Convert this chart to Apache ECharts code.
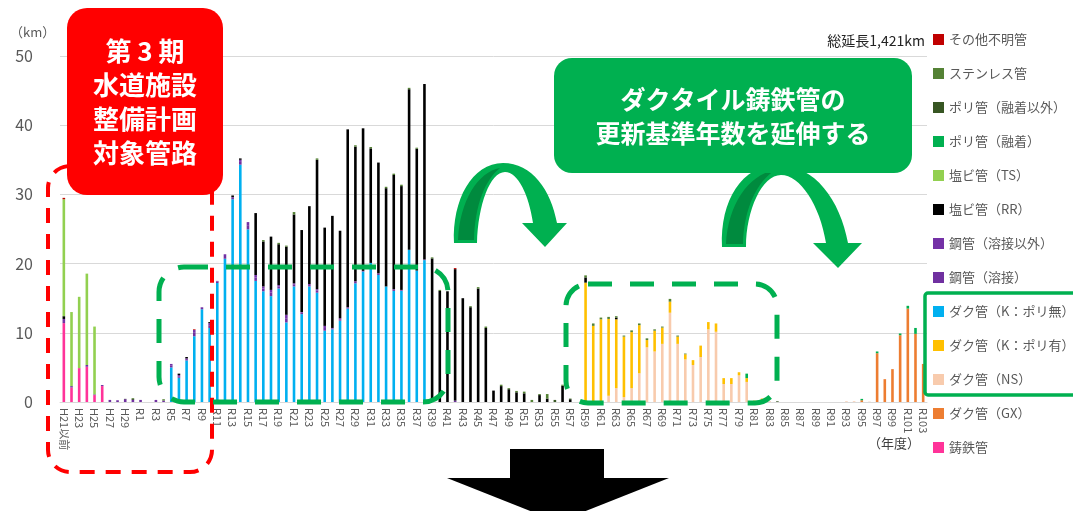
<!DOCTYPE html>
<html>
<head>
<meta charset="utf-8">
<script src="https://cdn.jsdelivr.net/npm/echarts@6/dist/echarts.min.js"></script>
<style>
html,body{margin:0;padding:0;background:#fff;}
#chart{width:1073px;height:511px;}
</style>
</head>
<body>
<div id="chart"></div>
<script>
// 年度区分（H21以前〜R103）
const years = ['H21以前','H22','H23','H24','H25','H26','H27','H28','H29','H30',
  'R1','R2','R3','R4','R5','R6','R7','R8','R9','R10',
  'R11','R12','R13','R14','R15','R16','R17','R18','R19','R20',
  'R21','R22','R23','R24','R25','R26','R27','R28','R29','R30',
  'R31','R32','R33','R34','R35','R36','R37','R38','R39','R40',
  'R41','R42','R43','R44','R45','R46','R47','R48','R49','R50',
  'R51','R52','R53','R54','R55','R56','R57','R58','R59','R60',
  'R61','R62','R63','R64','R65','R66','R67','R68','R69','R70',
  'R71','R72','R73','R74','R75','R76','R77','R78','R79','R80',
  'R81','R82','R83','R84','R85','R86','R87','R88','R89','R90',
  'R91','R92','R93','R94','R95','R96','R97','R98','R99','R100',
  'R101','R102','R103'];

// 管種別の更新延長（km）
const castIron = [11.4,2.1,4.9,5.1,1.0,2.3,0,0,0,0,
  0,0,0,0,0,0,0,0,0,0, 0,0,0,0,0,0,0,0,0,0, 0,0,0,0,0,0,0,0,0,0,
  0,0,0,0,0,0,0,0,0,0, 0,0,0,0,0,0,0,0,0,0, 0,0,0,0,0,0,0,0,0,0,
  0,0,0,0,0,0,0,0,0,0, 0,0,0,0,0,0,0,0,0,0, 0,0,0,0,0,0,0,0,0,0,
  0,0,0,0,0,0,0,0,0,0, 0,0,0];
const ductileGX = [0,0,0,0,0,0,0,0,0,0,
  0,0,0,0,0,0,0,0,0,0, 0,0,0,0,0,0,0,0,0,0, 0,0,0,0,0,0,0,0,0,0,
  0,0,0,0,0,0,0,0,0,0, 0,0,0,0,0,0,0,0,0,0, 0,0,0,0,0,0,0,0,0,0,
  0,0,0,0,0,0,0,0,0,0, 0,0,0,0,0,0,0,0,0,0, 0,0,0,0,0,0,0,0,0,0,
  0,0,0,0,0.25,0,7.05,3.3,4.75,9.65, 13.5,9.85,5.5];
const ductileNS = [0,0,0,0,0,0,0,0,0,0,
  0,0,0,0,0,0,0,0,0,0, 0,0,0,0,0,0,0,0,0,0, 0,0,0,0,0,0,0,0,0,0,
  0,0,0,0,0,0,0,0,0,0, 0,0,0,0,0,0,0,0,0,0, 0,0,0,0,0,0,0,0,0,0,
  0,0.9,2.0,0.7,2.0,4.15,7.9,7.3,8.4,12.9,
  8.4,6.15,5.35,6.5,10.5,10.15,2.6,2.6,3.85,2.9,
  0.1,0,0.1,0,0,0,0,0,0,0,
  0,0,0.1,0.1,0,0.05,0,0,0,0, 0,0,0];
const ductileKPoly = [0,0,0,0,0,0,0,0,0,0,
  0,0,0,0,0,0,0,0,0,0, 0,0,0,0,0,0,0,0,0,0, 0,0,0,0,0,0,0,0,0,0,
  0,0,0,0,0,0,0,0,0,0, 0,0,0,0,0,0,0,0,0,0,
  0,0,0,0,0,0,0,0,17.25,11.0,
  11.95,11.1,9.95,8.75,8.1,6.95,1.05,3.0,2.35,1.6,
  1.05,0.75,0.7,1.65,1.05,1.2,0.85,0.85,0.45,0.55,
  0.1,0.5,0,0,0,0,0,0,0,0,
  0,0,0,0,0,0,0,0,0,0, 0,0,0];
const ductileKBare = [0,0,0,0,0,0,0,0,0,0,
  0,0,0,0,5.0,3.5,6.0,9.5,13.4,10.7,
  17.2,20.7,29.3,34.3,24.95,17.5,16.0,15.3,16.4,11.5,
  16.7,12.7,16.7,15.8,10.3,10.5,11.75,13.5,17.15,18.85,
  20.1,18.35,16.7,16.05,16.05,22.0,19.0,20.5,0,0,
  0,0,0,0,0,0,0,0,0,0, 0,0,0,0,0,0,0,0,0,0, 0,0,0,0,0,0,0,0,0,0,
  0,0,0,0,0,0,0,0,0,0, 0,0,0,0,0,0,0,0,0,0, 0,0,0,0,0,0,0,0,0,0,
  0,0,0];
const steelWelded = [0.3,0.2,0,0.25,0.1,0.15,0.3,0.25,0.4,0.3,
  0.3,0,0.3,0.2,0.3,0.2,0.2,0.5,0.2,0.4,
  0.2,0.4,0.2,0.4,0.6,0.5,0.4,0.5,0.3,0.6,
  0.25,0.2,0.2,0.3,0.4,0.1,0.2,0.1,0.2,0.1,
  0,0.15,0,0.15,0.1,0,0,0.1,0,0,
  0,0.2,0,0,0,0,0,0,0,0,
  0,0,0,0,0,0,0,0,0,0, 0,0,0,0,0,0,0,0,0,0, 0,0,0,0,0,0,0,0,0,0,
  0,0,0,0,0,0,0,0,0,0, 0,0,0,0,0,0,0,0,0,0, 0,0,0];
const steelOther = [0.3,0,0,0,0,0,0,0,0,0,
  0,0,0,0,0.2,0.2,0.1,0.4,0.1,0.3,
  0.1,0.25,0.1,0.3,0.45,0.35,0.3,0.4,0.2,0.5,
  0.2,0.1,0.15,0.2,0.3,0.1,0.15,0.1,0.1,0,
  0,0.1,0,0.1,0.05,0,0,0,0,0,
  0,0,0,0,0,0,0,0,0,0, 0,0,0,0,0,0,0,0,0,0, 0,0,0,0,0,0,0,0,0,0,
  0,0,0,0,0,0,0,0,0,0, 0,0,0,0,0,0,0,0,0,0, 0,0,0,0,0,0,0,0,0,0,
  0,0,0];
const pvcRR = [0.4,0,0,0,0,0,0,0,0.05,0.1,
  0,0,0,0,0,0.2,0.2,0,0,0.15,
  0,0,0.25,0.2,0,8.95,6.5,7.7,5.9,9.85,
  9.95,11.85,11.25,18.7,14.2,16.2,12.65,25.7,19.45,20.6,
  16.55,16.0,14.2,16.5,15.0,23.2,17.6,25.35,20.75,16.05,
  16.0,19.0,15.0,13.7,16.4,10.7,1.65,2.3,1.85,1.4,
  1.25,0,1.0,0.5,0,2.35,0.4,0,0.75,0,
  0,0,0.25,0,0,0,0,0,0,0,
  0,0,0,0,0,0,0,0,0,0, 0,0,0,0,0,0,0,0,0,0, 0,0,0,0,0,0,0,0,0,0,
  0,0,0];
const pvcTS = [16.9,10.7,10.3,13.2,9.8,0,0,0,0,0,
  0,0,0,0,0,0,0,0,0,0, 0,0,0,0,0,0,0,0,0,0, 0,0,0,0,0,0,0,0,0,0,
  0,0,0,0,0,0,0,0,0,0, 0,0,0,0,0,0,0,0,0,0, 0,0,0,0,0,0,0,0,0,0,
  0,0,0,0,0,0,0,0,0,0, 0,0,0,0,0,0,0,0,0,0, 0,0,0,0,0,0,0,0,0,0,
  0,0,0,0,0,0,0,0,0,0, 0,0,0];
const polyFused = [0,0,0,0,0,0,0,0,0,0,
  0,0,0,0,0,0,0,0,0,0, 0,0,0,0,0,0,0,0,0,0, 0,0,0,0,0,0,0,0,0,0,
  0,0,0,0,0,0,0,0,0,0, 0,0,0,0,0,0,0,0,0,0, 0,0,0,0,0,0,0,0,0,0,
  0,0,0,0,0,0,0,0,0,0,
  0,0,0,0,0,0,0,0,0,0.65,
  0,0,0,0,0,0,0,0,0,0,
  0,0,0,0,0.2,0,0.25,0,0,0.25, 0.4,0.85,0];
const polyOther = [0,0,0,0,0,0,0,0,0,0,
  0,0,0,0,0,0,0,0,0,0, 0,0,0,0,0,0,0,0,0,0, 0,0,0,0,0,0,0,0,0,0,
  0,0,0,0,0,0,0,0,0,0, 0,0,0,0,0,0,0,0,0,0,
  0,0,0,0,0.3,0,0,0,0,0,
  0,0,0,0,0,0,0,0,0,0, 0,0,0,0,0,0,0,0,0,0,
  0,0,0,0.1,0,0,0,0,0,0,
  0,0,0,0,0,0,0,0,0,0, 0,0,0];
const stainless = [0,0,0,0,0,0,0,0,0,0.15,
  0,0,0,0.2,0,0,0,0,0,0,
  0,0,0,0,0,0,0.2,0,0.2,0.15,
  0.35,0,0,0.2,0,0,0,0,0.2,0,
  0.2,0,0.2,0.2,0.2,0.2,0.15,0,0.15,0.15,
  0,0,0,0.15,0.2,0.2,0,0.2,0.15,0.2,
  0.25,0.3,0.15,0.65,0,0.15,0.1,0,0.3,0.35,
  0.25,0.3,0.2,0.15,0.25,0.25,0.25,0.2,0.15,0.4,
  0.15,0.1,0,0,0,0,0,0,0,0,
  0,0,0,0,0,0,0,0,0,0, 0,0,0,0,0,0,0,0,0,0, 0,0,0];
const unknown = [0.2,0,0,0,0,0,0,0,0,0,
  0,0,0,0,0,0,0,0.1,0,0,
  0,0,0,0,0,0,0,0,0,0, 0,0,0,0,0,0,0,0,0,0, 0,0,0,0,0,0,0,0,0,0,
  0,0.15,0,0,0,0,0,0,0,0,
  0,0,0,0,0,0,0,0,0,0, 0,0,0,0,0,0,0,0,0,0, 0,0,0,0,0,0,0,0,0,0,
  0,0,0,0,0,0,0,0,0,0, 0,0,0,0,0,0,0,0,0,0, 0,0,0];

const yTicks = [0, 10, 20, 30, 40, 50];

// 積み上げ順（下から）
const stackDefs = [
  ['鋳鉄管', castIron, '#FF3399'],
  ['ダク管（GX）', ductileGX, '#ED7D31'],
  ['ダク管（NS）', ductileNS, '#F8CBAD'],
  ['ダク管（K：ポリ有）', ductileKPoly, '#FFC000'],
  ['ダク管（K：ポリ無）', ductileKBare, '#00B0F0'],
  ['鋼管（溶接）', steelWelded, '#7030A0'],
  ['鋼管（溶接以外）', steelOther, '#7431A6'],
  ['塩ビ管（RR）', pvcRR, '#000000'],
  ['塩ビ管（TS）', pvcTS, '#92D050'],
  ['ポリ管（融着）', polyFused, '#00B050'],
  ['ポリ管（融着以外）', polyOther, '#375623'],
  ['ステンレス管', stainless, '#548235'],
  ['その他不明管', unknown, '#C00000']
];

const FONT = '"Noto Sans CJK JP", "Noto Sans", sans-serif';

const chart = echarts.init(document.getElementById('chart'), null, {renderer: 'canvas'});

const option = {
  animation: false,
  backgroundColor: '#ffffff',
  textStyle: {fontFamily: FONT},
  grid: {left: 60, right: 146, top: 56, bottom: 109, containLabel: false},
  legend: {
    orient: 'vertical',
    left: 933,
    top: 33,
    padding: 0,
    itemWidth: 11,
    itemHeight: 11,
    itemGap: 21,
    icon: 'rect',
    selectedMode: false,
    data: stackDefs.map(d => d[0]).reverse(),
    textStyle: {fontSize: 13, color: '#595959', lineHeight: 13, fontFamily: FONT}
  },
  xAxis: {
    type: 'category',
    data: years,
    axisTick: {show: false},
    axisLine: {lineStyle: {color: '#D9D9D9', width: 1}},
    axisLabel: {
      rotate: -90,
      interval: 1,
      fontSize: 11,
      color: '#595959',
      margin: 6,
      fontFamily: FONT
    }
  },
  yAxis: {
    type: 'value',
    min: yTicks[0],
    max: yTicks[yTicks.length - 1],
    interval: 10,
    axisLine: {show: false},
    axisTick: {show: false},
    splitLine: {lineStyle: {color: '#D9D9D9', width: 1}},
    axisLabel: {fontSize: 16, color: '#595959', margin: 27, fontFamily: FONT}
  },
  series: stackDefs.map(d => ({
    name: d[0],
    type: 'bar',
    stack: 'total',
    barWidth: 2.6,
    data: d[1],
    itemStyle: {color: d[2]},
    emphasis: {disabled: true}
  })),
  graphic: {
    elements: [
      // 単位・合計・年度
      {type: 'text', x: 10, y: 26, style: {text: '（km）', font: '13px ' + FONT, fill: '#595959'}},
      {type: 'text', x: 925, y: 34, style: {text: '総延長1,421km', font: '14px ' + FONT, fill: '#222222', align: 'right', textAlign: 'right'}},
      {type: 'text', x: 868, y: 437, style: {text: '（年度）', font: '13px ' + FONT, fill: '#404040'}},

      // 第3期 対象範囲（赤破線）
      {type: 'rect', z: 100, shape: {x: 48, y: 166, width: 164, height: 306, r: 22},
        style: {fill: 'none', stroke: '#FF0000', lineWidth: 4, lineDash: [15, 11]}},
      // 赤ラベル
      {type: 'rect', z: 101, shape: {x: 67, y: 8, width: 156, height: 187, r: 20},
        style: {fill: '#FF0000'}},
      {type: 'text', z: 102, x: 145, y: 102,
        style: {text: '第 3 期\n水道施設\n整備計画\n対象管路', font: 'bold 26px ' + FONT,
          fill: '#ffffff', align: 'center', verticalAlign: 'middle',
          textAlign: 'center', textVerticalAlign: 'middle', lineHeight: 34}},

      // 緑破線（延伸前・延伸後）
      {type: 'rect', z: 100, shape: {x: 159, y: 267, width: 289, height: 135, r: 25},
        style: {fill: 'none', stroke: '#00B050', lineWidth: 5, lineDash: [24, 18]}},
      {type: 'rect', z: 100, shape: {x: 566, y: 284, width: 211, height: 119, r: 22},
        style: {fill: 'none', stroke: '#00B050', lineWidth: 5, lineDash: [24, 18]}},

      // 緑ラベル
      {type: 'rect', z: 101, shape: {x: 554, y: 58, width: 358, height: 115, r: 18},
        style: {fill: '#00B050'}},
      {type: 'text', z: 102, x: 733, y: 116,
        style: {text: 'ダクタイル鋳鉄管の\n更新基準年数を延伸する', font: 'bold 25px ' + FONT,
          fill: '#ffffff', align: 'center', verticalAlign: 'middle',
          textAlign: 'center', textVerticalAlign: 'middle', lineHeight: 34}},

      // 凡例のダクタイル枠
      {type: 'rect', z: 100, shape: {x: 925, y: 293, width: 160, height: 102, r: 3},
        style: {fill: 'none', stroke: '#00B050', lineWidth: 3.5}},

      // 下向き矢印
      {type: 'rect', z: 100, shape: {x: 510, y: 449, width: 94, height: 30},
        style: {fill: '#000000'}},
      {type: 'polygon', z: 100, shape: {points: [[447, 478], [669, 478], [558, 522]]},
        style: {fill: '#000000'}}
    ]
  }
};

chart.setOption(option);

// 曲線矢印
const zr = chart.getZr();
const arrowPaths = [
  {d: 'M454 243 C452 200 472 163 503 163 C532 163 551 190 557 223 L567 223 L545 247 L522 223 L533 223 C529 195 518 172 505 172 C490 172 478 205 477 243 Z', fill: '#00B050'},
  {d: 'M458 240 L474 240 C475 205 485 180 500 168 C478 172 460 200 458 240 Z', fill: '#008A3E'},
  {d: 'M722 247 C720 200 742 165 778 165 C815 165 840 200 848 243 L862 243 L838 268 L813 243 L826 243 C820 205 800 175 781 175 C762 175 746 210 746 247 Z', fill: '#00B050'},
  {d: 'M726 244 L743 244 C744 208 757 182 775 170 C748 175 728 205 726 244 Z', fill: '#008A3E'}
];
arrowPaths.forEach(p => {
  const el = echarts.graphic.makePath(p.d, {style: {fill: p.fill}, z: 100});
  zr.add(el);
});
</script>
</body>
</html>
